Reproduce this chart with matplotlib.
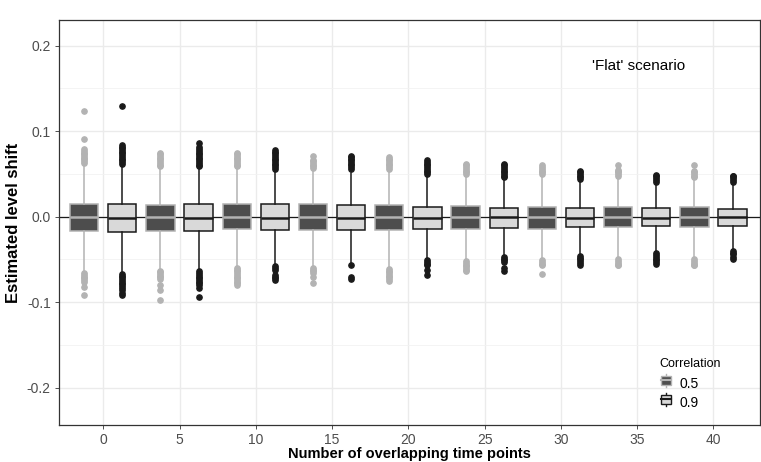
import numpy as np
import matplotlib.pyplot as plt
from matplotlib.patches import Rectangle
from matplotlib.lines import Line2D
from matplotlib.legend_handler import HandlerBase

plt.rcParams['font.family'] = ['Liberation Sans', 'DejaVu Sans']
plt.rcParams['axes.unicode_minus'] = False

# Overlap levels (one pair of boxes per level)
overlap = [0, 5, 10, 15, 20, 25, 30, 35, 40]

# Correlation 0.5
q1_05 = [-0.0168, -0.0170, -0.0148, -0.0160, -0.0150, -0.0140, -0.0140, -0.0125, -0.0125]
med_05 = [-0.0008, -0.0008, -0.0005, -0.0008, -0.0008, -0.0008, -0.0005, -0.0005, -0.0005]
q3_05 = [0.0152, 0.0140, 0.0144, 0.0144, 0.0133, 0.0120, 0.0110, 0.0110, 0.0110]
lo_05 = [-0.064, -0.061, -0.058, -0.058, -0.060, -0.051, -0.051, -0.049, -0.049]
hi_05 = [0.061, 0.057, 0.057, 0.056, 0.055, 0.048, 0.048, 0.046, 0.044]
out_05 = [
    [0.063, 0.065, 0.067, 0.069, 0.071, 0.073, 0.075, 0.077, 0.079, 0.091, 0.124,
     -0.066, -0.068, -0.070, -0.072, -0.074, -0.076, -0.082, -0.091],
    [0.059, 0.061, 0.063, 0.065, 0.067, 0.069, 0.071, 0.073, 0.075,
     -0.063, -0.065, -0.067, -0.069, -0.071, -0.073, -0.080, -0.086, -0.0975],
    [0.059, 0.061, 0.063, 0.065, 0.067, 0.069, 0.071, 0.073, 0.075,
     -0.060, -0.062, -0.064, -0.066, -0.068, -0.070, -0.072, -0.074, -0.076, -0.078, -0.080],
    [0.057, 0.059, 0.061, 0.063, 0.065, 0.066, 0.071,
     -0.060, -0.062, -0.064, -0.066, -0.071, -0.078],
    [0.056, 0.058, 0.060, 0.062, 0.064, 0.066, 0.068, 0.070,
     -0.061, -0.063, -0.065, -0.067, -0.069, -0.071, -0.073, -0.075],
    [0.050, 0.052, 0.054, 0.056, 0.058, 0.060, 0.062,
     -0.052, -0.054, -0.056, -0.058, -0.060, -0.062, -0.064],
    [0.050, 0.052, 0.054, 0.056, 0.058, 0.060,
     -0.051, -0.053, -0.055, -0.057, -0.067],
    [0.048, 0.050, 0.052, 0.054, 0.055, 0.060,
     -0.050, -0.052, -0.054, -0.056, -0.057],
    [0.046, 0.048, 0.050, 0.052, 0.053, 0.060,
     -0.050, -0.052, -0.054, -0.056, -0.057],
]

# Correlation 0.9
q1_09 = [-0.0180, -0.0168, -0.0150, -0.0150, -0.0144, -0.0130, -0.0120, -0.0110, -0.0110]
med_09 = [-0.0020, -0.0020, -0.0016, -0.0020, -0.0010, -0.0004, -0.0010, -0.0016, -0.0004]
q3_09 = [0.0152, 0.0144, 0.0144, 0.0133, 0.0110, 0.0100, 0.0100, 0.0100, 0.0094]
lo_09 = [-0.066, -0.063, -0.056, -0.054, -0.050, -0.046, -0.045, -0.041, -0.038]
hi_09 = [0.061, 0.057, 0.054, 0.051, 0.048, 0.044, 0.042, 0.039, 0.039]
out_09 = [
    [0.062, 0.064, 0.066, 0.068, 0.070, 0.072, 0.074, 0.076, 0.078, 0.080, 0.082, 0.084, 0.130,
     -0.067, -0.069, -0.071, -0.073, -0.075, -0.077, -0.079, -0.081, -0.083, -0.086, -0.089, -0.092],
    [0.059, 0.061, 0.063, 0.065, 0.067, 0.069, 0.071, 0.073, 0.075, 0.077, 0.079, 0.081, 0.086,
     -0.064, -0.066, -0.068, -0.070, -0.072, -0.074, -0.076, -0.078, -0.080, -0.083, -0.094],
    [0.056, 0.058, 0.060, 0.062, 0.064, 0.066, 0.068, 0.070, 0.072, 0.074, 0.076, 0.078,
     -0.058, -0.060, -0.062, -0.068, -0.070, -0.072, -0.074],
    [0.056, 0.058, 0.060, 0.062, 0.064, 0.066, 0.068, 0.070, 0.071,
     -0.057, -0.070, -0.073],
    [0.050, 0.052, 0.054, 0.056, 0.058, 0.060, 0.062, 0.064, 0.066,
     -0.051, -0.053, -0.055, -0.057, -0.062, -0.068],
    [0.046, 0.048, 0.050, 0.052, 0.054, 0.056, 0.058, 0.060, 0.062,
     -0.047, -0.049, -0.051, -0.053, -0.060, -0.063],
    [0.044, 0.046, 0.048, 0.050, 0.052, 0.054,
     -0.046, -0.048, -0.050, -0.052, -0.054, -0.057],
    [0.041, 0.043, 0.045, 0.047, 0.049,
     -0.043, -0.045, -0.047, -0.049, -0.051, -0.053, -0.055],
    [0.041, 0.043, 0.045, 0.047, 0.048,
     -0.040, -0.042, -0.044, -0.047, -0.049],
]

corr_labels = ['0.5', '0.9']
fill_cols = ['#4D4D4D', '#D9D9D9']
line_cols = ['#B3B3B3', '#1A1A1A']
dodge = 1.25
box_w = 1.85


def make_stats(q1, med, q3, lo, hi, out):
    return [dict(q1=a, med=b, q3=c, whislo=d, whishi=e, fliers=f)
            for a, b, c, d, e, f in zip(q1, med, q3, lo, hi, out)]


class BoxKey(HandlerBase):
    # small boxplot glyph for the legend keys
    def create_artists(self, legend, orig, xd, yd, width, height, fontsize, trans):
        fc, ec = orig.get_facecolor(), orig.get_edgecolor()
        w, h = 7.8, 6.6
        x0 = xd + (width - w) / 2
        y0 = yd + (height - h) / 2
        box = Rectangle((x0, y0), w, h, facecolor=fc, edgecolor=ec, lw=1.0, transform=trans)
        mid = Line2D([x0, x0 + w], [y0 + h / 2] * 2, color=ec, lw=1.5, transform=trans)
        cx = x0 + w / 2
        up = Line2D([cx, cx], [y0 + h, y0 + h + 1.5], color=ec, lw=1.0, transform=trans)
        dn = Line2D([cx, cx], [y0 - 1.5, y0], color=ec, lw=1.0, transform=trans)
        return [up, dn, box, mid]


fig = plt.figure(figsize=(7.61, 4.62), dpi=100)
ax = fig.add_axes([59 / 761, 1 - 425 / 462, (760 - 59) / 761, (425 - 20) / 462])

ax.axhline(0, color='#1A1A1A', lw=0.9, zorder=1.5)

series = [
    make_stats(q1_05, med_05, q3_05, lo_05, hi_05, out_05),
    make_stats(q1_09, med_09, q3_09, lo_09, hi_09, out_09),
]
handles = []
for k, stats in enumerate(series):
    pos = [x + (2 * k - 1) * dodge for x in overlap]
    fc, ec = fill_cols[k], line_cols[k]
    ax.bxp(stats, positions=pos, widths=box_w, patch_artist=True, showcaps=False,
           manage_ticks=False,
           boxprops=dict(facecolor=fc, edgecolor=ec, linewidth=1.1),
           whiskerprops=dict(color=ec, linewidth=1.1),
           medianprops=dict(color=ec, linewidth=1.8),
           flierprops=dict(marker='o', markerfacecolor=ec, markeredgecolor=ec,
                           markersize=3.8, linestyle='none'),
           zorder=2)
    handles.append(Rectangle((0, 0), 1, 1, facecolor=fc, edgecolor=ec))

ax.set_xlim(-2.9, 43.05)
ax.set_ylim(-0.2436, 0.230)
ax.set_xticks(overlap)
ax.set_yticks([-0.2, -0.1, 0.0, 0.1, 0.2])
ax.set_yticklabels(['-0.2', '-0.1', '0.0', '0.1', '0.2'])
ax.set_yticks([-0.15, -0.05, 0.05, 0.15], minor=True)
ax.grid(True, which='major', color='#EBEBEB', lw=1.0, zorder=0)
ax.grid(True, which='minor', axis='y', color='#F2F2F2', lw=0.6, zorder=0)
ax.set_axisbelow(True)
ax.tick_params(which='major', length=3, width=0.6, color='#333333',
               labelcolor='#4D4D4D', labelsize=10, pad=3)
ax.tick_params(which='minor', length=0)
for sp in ax.spines.values():
    sp.set_color('#333333')
    sp.set_linewidth(0.9)

ax.set_xlabel('Number of overlapping time points', fontsize=10.5, fontweight='bold', labelpad=0)
ax.set_ylabel('Estimated level shift', fontsize=12, fontweight='bold', labelpad=4)

ax.text(0.827, 0.886, "'Flat' scenario", transform=ax.transAxes, ha='center', va='center',
        fontsize=11)

leg = ax.legend(handles, corr_labels, title='Correlation', handler_map={Rectangle: BoxKey()},
                loc='upper left', bbox_to_anchor=(659 / 761, 1 - 358 / 462),
                bbox_transform=fig.transFigure, frameon=False,
                fontsize=10, title_fontsize=9, handlelength=1.0, handleheight=1.0,
                handletextpad=0.45, labelspacing=0.37, borderaxespad=0, borderpad=0,
                alignment='left')
leg._legend_box.sep = 5

fig.savefig('out.png', dpi=100)
